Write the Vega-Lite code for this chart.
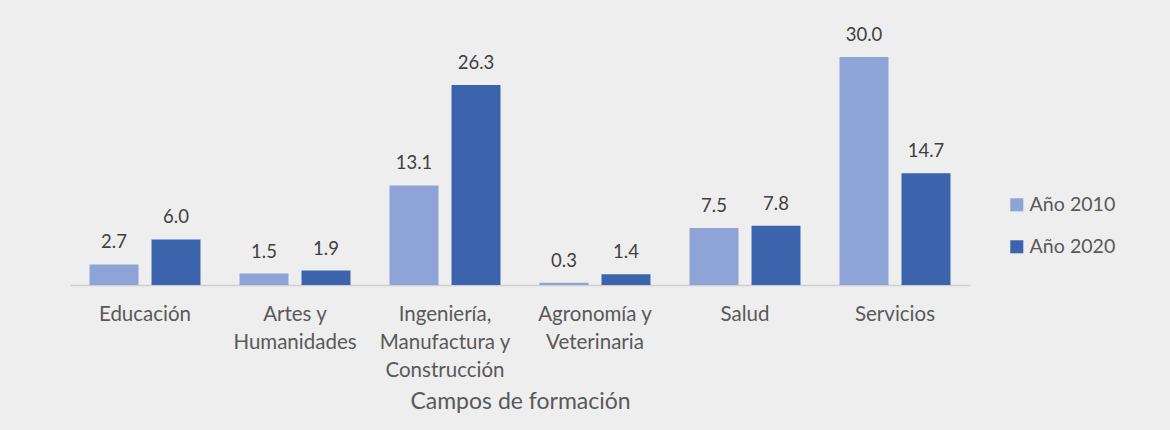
{
  "$schema": "https://vega.github.io/schema/vega-lite/v6.json",
  "autosize": {"type": "none"},
  "width": 900,
  "height": 228,
  "padding": {"left": 70, "top": 57, "right": 200, "bottom": 145},
  "background": "#eeeeee",
  "config": {
    "view": {"stroke": null},
    "font": "Lato",
    "axis": {"labelFont": "Lato", "titleFont": "Lato"},
    "legend": {"labelFont": "Lato"}
  },
  "data": {
    "values": [
      {"campo": "Educación", "serie": "Año 2010", "valor": 2.7},
      {"campo": "Educación", "serie": "Año 2020", "valor": 6.0},
      {"campo": "Artes y Humanidades", "serie": "Año 2010", "valor": 1.5},
      {"campo": "Artes y Humanidades", "serie": "Año 2020", "valor": 1.9},
      {"campo": "Ingeniería, Manufactura y Construcción", "serie": "Año 2010", "valor": 13.1},
      {"campo": "Ingeniería, Manufactura y Construcción", "serie": "Año 2020", "valor": 26.3},
      {"campo": "Agronomía y Veterinaria", "serie": "Año 2010", "valor": 0.3},
      {"campo": "Agronomía y Veterinaria", "serie": "Año 2020", "valor": 1.4},
      {"campo": "Salud", "serie": "Año 2010", "valor": 7.5},
      {"campo": "Salud", "serie": "Año 2020", "valor": 7.8},
      {"campo": "Servicios", "serie": "Año 2010", "valor": 30.0},
      {"campo": "Servicios", "serie": "Año 2020", "valor": 14.7}
    ]
  },
  "encoding": {
    "x": {
      "field": "campo",
      "type": "nominal",
      "sort": null,
      "scale": {"paddingInner": 0.26, "paddingOuter": 0.13},
      "axis": {
        "title": "Campos de formación",
        "titleFontSize": 23,
        "titleFontWeight": "normal",
        "titleColor": "#595959",
        "titlePadding": 10,
        "labelAngle": 0,
        "labelFontSize": 20.5,
        "labelColor": "#595959",
        "labelPadding": 29,
        "labelLineHeight": 28,
        "labelBaseline": "middle",
        "labelExpr": "datum.label == 'Artes y Humanidades' ? ['Artes y', 'Humanidades'] : datum.label == 'Ingeniería, Manufactura y Construcción' ? ['Ingeniería,', 'Manufactura y', 'Construcción'] : datum.label == 'Agronomía y Veterinaria' ? ['Agronomía y', 'Veterinaria'] : datum.label",
        "ticks": false,
        "domainColor": "#d0d0d0",
        "domainWidth": 1.5
      }
    },
    "xOffset": {"field": "serie", "type": "nominal", "scale": {"paddingInner": 0.21}},
    "y": {
      "field": "valor",
      "type": "quantitative",
      "scale": {"domain": [0, 30], "nice": false},
      "axis": null
    }
  },
  "layer": [
    {
      "mark": {"type": "bar"},
      "encoding": {
        "color": {
          "field": "serie",
          "type": "nominal",
          "scale": {"domain": ["Año 2010", "Año 2020"], "range": ["#8fa4d6", "#3b64ad"]},
          "legend": {
            "title": null,
            "orient": "none",
            "legendX": 937,
            "legendY": 138,
            "symbolType": "square",
            "symbolSize": 170,
            "symbolStrokeWidth": 0,
            "labelFontSize": 19.6,
            "labelColor": "#595959",
            "labelOffset": 3,
            "rowPadding": 21
          }
        }
      }
    },
    {
      "mark": {"type": "text", "baseline": "bottom", "dy": -12, "fontSize": 18.5, "color": "#404040"},
      "encoding": {
        "text": {"field": "valor", "type": "quantitative", "format": ".1f"}
      }
    }
  ]
}
